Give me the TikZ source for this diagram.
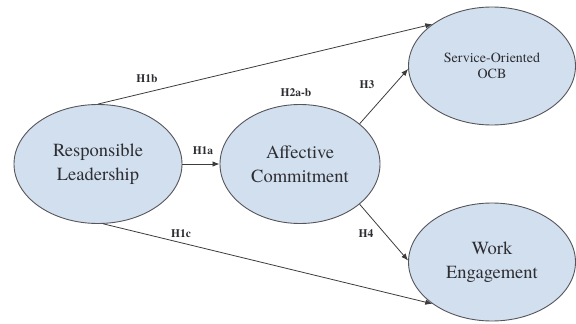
\documentclass[tikz,border=0pt]{standalone}
\usepackage{fontspec}
\setmainfont{texgyretermes}[Extension=.otf, UprightFont=*-regular, BoldFont=*-bold, ItalicFont=*-italic, BoldItalicFont=*-bolditalic]
\usetikzlibrary{shapes.geometric,arrows.meta}
\definecolor{ellfill}{RGB}{209,223,239}
\definecolor{ellline}{RGB}{85,85,90}
\definecolor{txt}{RGB}{45,45,50}
\definecolor{edge}{RGB}{60,60,60}
\tikzset{
  construct/.style={ellipse, draw=ellline, line width=0.9pt, fill=ellfill, text=txt,
    minimum width=168pt, minimum height=119pt, inner sep=0pt, align=center,
    font=\fontsize{18.5}{24}\selectfont},
  smallconstruct/.style={construct, font=\fontsize{14}{16}\selectfont},
  path/.style={draw=edge, line width=0.8pt},
  arr/.style={path, -{Latex[length=7pt,width=5.5pt]}},
  hyp/.style={font=\bfseries\fontsize{11.5}{13}\selectfont, text=txt, inner sep=0pt}
}
\begin{document}
\begin{tikzpicture}[x=1pt,y=-1pt]
\useasboundingbox (0,0) rectangle (576,324);
\node[construct] (RL) at (98,164) {Responsible\\Leadership};
\node[construct, minimum width=160pt] (AC) at (300,164) {Affective\\Commitment};
\node[smallconstruct, minimum width=167pt, minimum height=118pt] (OCB) at (492,66) {Service-Oriented\\OCB};
\node[construct, minimum width=167pt, minimum height=118pt] (WE) at (492,262) {Work\\Engagement};

\draw[arr] (RL.north) -- (OCB.145);
\draw[arr] (RL.east) -- (AC.west);
\draw[arr] (AC.34) -- (OCB.182);
\draw[arr] (AC.-34) -- (WE.179);
\draw[arr] (RL.-85) -- (WE.215);

\node[hyp] (h1b) at (147,79) {H1b};
\node[hyp] (h2ab) at (296,93) {H2a-b};
\node[hyp] (h3) at (367,85) {H3};
\node[hyp] (h1a) at (203,151) {H1a};
\node[hyp] (h1c) at (181,234) {H1c};
\node[hyp] (h4) at (366,234) {H4};
\end{tikzpicture}
\end{document}
